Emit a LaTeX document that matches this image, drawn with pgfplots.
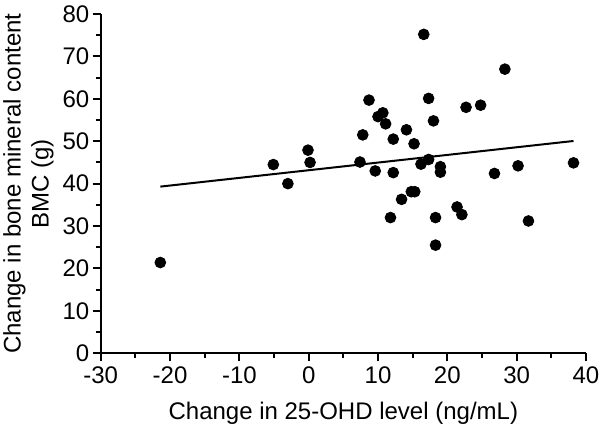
\documentclass[border=0pt]{standalone}
\usepackage{pgfplots}
\pgfplotsset{compat=1.18}
\usepackage{fontspec}
\setmainfont{Liberation Sans}
\begin{document}
\begin{tikzpicture}
\begin{axis}[
  scale only axis,
  width=242.65pt, height=169.65pt,
  xmin=-30, xmax=40, ymin=0, ymax=80,
  xtick={-30,-20,...,40}, ytick={0,10,...,80},
  minor x tick num=1, minor y tick num=1,
  axis x line*=bottom, axis y line*=left,
  axis line style={line width=1pt},
  every tick/.style={black, line width=1pt},
  tick align=outside,
  major tick length=4pt, minor tick length=2.5pt,
  /pgf/number format/assume math mode=true,
  ticklabel style={font=\fontsize{12}{14}\selectfont, inner sep=0pt},
  xticklabel style={yshift=-2.5pt},
  yticklabel style={xshift=-1.5pt},
  label style={font=\fontsize{12}{14}\selectfont},
  xlabel={Change in 25-OHD level (ng/mL)},
  ylabel={Change in bone mineral content\\BMC (g)},
  xlabel style={at={(axis description cs:0.5,-0.143)}, anchor=north, inner sep=0pt},
  ylabel style={at={(axis description cs:-0.096,0.5)}, anchor=south, align=center, inner sep=0pt},
  clip=false,
]
\addplot[only marks, mark=*, mark size=2.7pt, black] coordinates {
(-21.4,21.4) (-5.1,44.5) (-3.0,40.0) (-0.1,47.9) (0.2,45.0)
(16.6,75.2) (28.3,67.0) (8.7,59.7) (17.3,60.1) (22.7,58.0) (24.8,58.5)
(10.7,56.7) (10.0,55.8) (11.1,54.1) (18.0,54.8) (14.1,52.7) (7.8,51.5)
(12.2,50.5) (15.2,49.4) (7.4,45.1) (17.3,45.7) (16.2,44.6) (19.0,44.0)
(19.0,42.7) (9.6,43.0) (12.2,42.6) (26.8,42.4) (30.2,44.2) (38.2,44.9)
(14.8,38.1) (15.3,38.1) (13.4,36.3) (11.8,32.0) (18.3,32.0) (21.4,34.5)
(22.1,32.7) (31.7,31.2) (18.3,25.5)
};
\addplot[black, line width=1pt] coordinates {(-21.4,39.3) (38.2,50.06)};
\end{axis}
\pgfresetboundingbox
\useasboundingbox (-50.35pt,-36.35pt) rectangle (249.65pt,176.65pt);
\end{tikzpicture}
\end{document}
